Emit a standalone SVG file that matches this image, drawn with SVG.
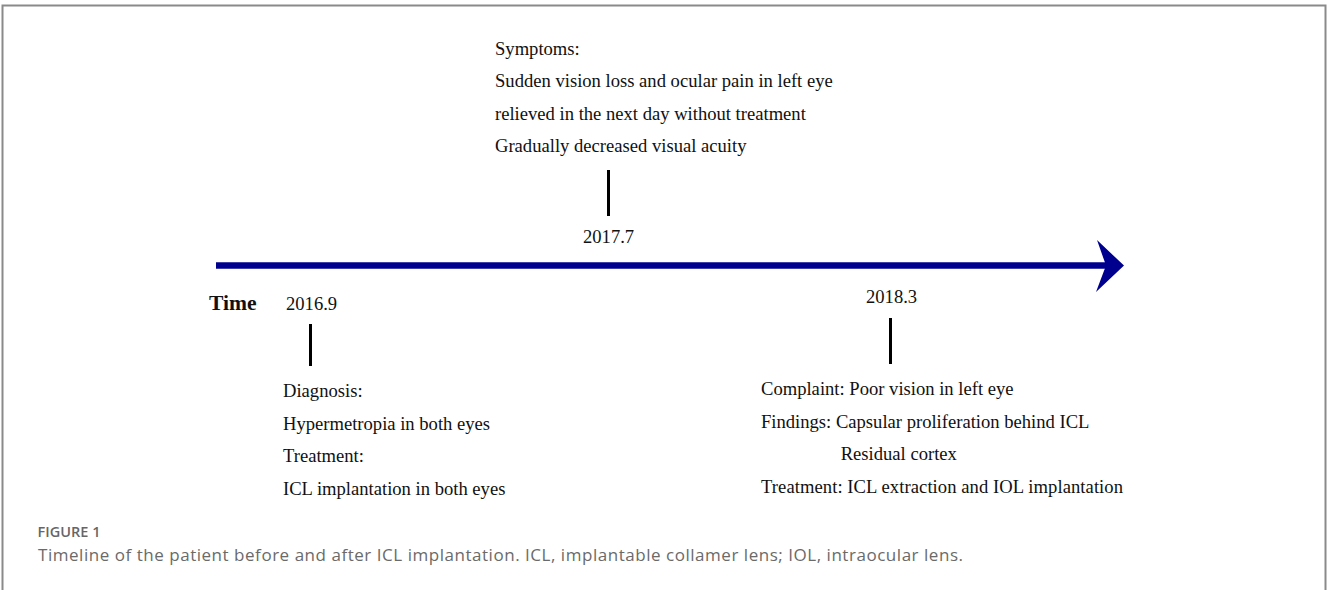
<svg xmlns="http://www.w3.org/2000/svg" width="1328" height="590" viewBox="0 0 1328 590">
<style>
.t{font-family:"Liberation Serif","Times New Roman",serif;font-size:18.6px;fill:#111}
.tb{font-family:"Liberation Serif","Times New Roman",serif;font-size:21.6px;font-weight:bold;fill:#111}
.tick{stroke:#000;stroke-width:3}
.cap1{font-family:"Open Sans",sans-serif;font-size:14.5px;font-weight:600;fill:#666}
.cap2{font-family:"Open Sans",sans-serif;font-size:17px;fill:#6a6a6a}
</style>
<rect x="0" y="0" width="1328" height="590" fill="#fff"/>
<rect x="2.5" y="5.5" width="1323" height="620" fill="none" stroke="#8a8a8a" stroke-width="2"/>
<g id="connectors">
<line x1="216" y1="265.6" x2="1108" y2="265.6" stroke="#00008f" stroke-width="6.5"/>
<polygon points="1097,240 1124,265.6 1096,292 1106,265.6" fill="#00008f"/>
<line class="tick" x1="608.5" y1="170" x2="608.5" y2="216"/>
<line class="tick" x1="310.5" y1="324" x2="310.5" y2="366"/>
<line class="tick" x1="890.5" y1="318" x2="890.5" y2="364"/>
</g>
<g id="time-label"><text class="tb" x="209" y="310">Time</text></g>
<g id="node-2017-7">
<text class="t" x="495" y="55">Symptoms:</text>
<text class="t" x="495" y="87.3">Sudden vision loss and ocular pain in left eye</text>
<text class="t" x="495" y="120">relieved in the next day without treatment</text>
<text class="t" x="495" y="151.7">Gradually decreased visual acuity</text>
<text class="t" x="583" y="243">2017.7</text>
</g>
<g id="node-2016-9">
<text class="t" x="286" y="310">2016.9</text>
<text class="t" x="283" y="396.7">Diagnosis:</text>
<text class="t" x="283" y="430">Hypermetropia in both eyes</text>
<text class="t" x="283" y="461.7">Treatment:</text>
<text class="t" x="283" y="495">ICL implantation in both eyes</text>
</g>
<g id="node-2018-3">
<text class="t" x="866" y="303.3">2018.3</text>
<text class="t" x="761" y="395">Complaint: Poor vision in left eye</text>
<text class="t" x="761" y="428.3">Findings: Capsular proliferation behind ICL</text>
<text class="t" x="840.7" y="460">Residual cortex</text>
<text class="t" x="761" y="493.3" textLength="362">Treatment: ICL extraction and IOL implantation</text>
</g>
<g id="caption">
<text class="cap1" x="37.5" y="537.3" textLength="63">FIGURE 1</text>
<text class="cap2" x="38" y="561" textLength="925">Timeline of the patient before and after ICL implantation. ICL, implantable collamer lens; IOL, intraocular lens.</text>
</g>
</svg>
